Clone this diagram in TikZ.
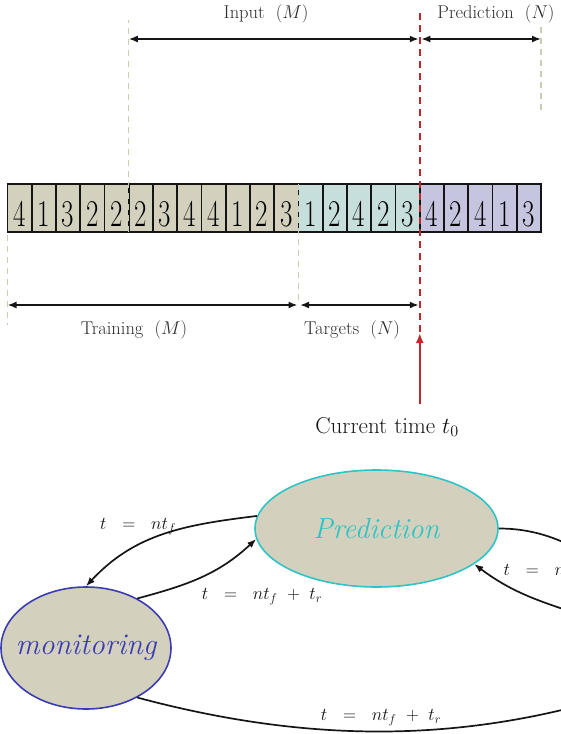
\RequirePackage{fix-cm}
\documentclass[tikz,border=0pt]{standalone}
\usepackage{xcolor}
\usepackage{graphicx}
\usepackage{tikz}
\usetikzlibrary{arrows.meta,positioning,shapes.geometric,calc}
\definecolor{ink}{HTML}{151515}
\definecolor{sand}{HTML}{D3D1BE}
\definecolor{mint}{HTML}{C6DFDC}
\definecolor{lilac}{HTML}{C6C5DF}
\definecolor{guideline}{HTML}{CBCDB0}
\definecolor{nowred}{HTML}{C3262B}
\definecolor{cyanring}{HTML}{2EC3C5}
\definecolor{monblue}{HTML}{3B3BB2}

\begin{document}
\begin{tikzpicture}[x=1pt,y=1pt,
  cell/.style={draw=ink,line width=1.6pt,minimum width=24.25pt,minimum height=48pt,
    inner sep=0pt,outer sep=0pt,text height=36pt,text depth=0pt,
    font=\fontsize{27}{27}\selectfont},
  span/.style={draw=ink,line width=1.7pt,{Latex[length=9pt,width=7pt]}-{Latex[length=9pt,width=7pt]}},
  guide/.style={draw=guideline,line width=1.3pt,dash pattern=on 6pt off 5pt},
  nowline/.style={draw=nowred,line width=2pt,dash pattern=on 7pt off 5pt},
  nowarrow/.style={draw=nowred,line width=2pt,-{Latex[length=10pt,width=8pt]}},
  seglabel/.style={font=\fontsize{18.5}{20}\selectfont,text=ink!90},
  nowlabel/.style={font=\fontsize{23}{25}\selectfont,text=ink},
  state/.style={ellipse,fill=sand,line width=1.6pt,inner sep=0pt},
  flow/.style={draw=ink,line width=1.7pt,-{Latex[length=9pt,width=7pt]}},
  elabel/.style={font=\fontsize{18}{20}\selectfont,text=ink}
]
\useasboundingbox (0,0) rectangle (561,-734);
\clip (0,0) rectangle (561,-734);

\foreach \d [count=\i] in {4,1,3,2,2,2,3,4,4,1,2,3}
  \node[cell,fill=sand] (c\i) at ({7.5+(\i-0.5)*24.25},-208) {\scalebox{1}[1.4]{\d}};
\foreach \d [count=\i from 13] in {1,2,4,2,3}
  \node[cell,fill=mint] (c\i) at ({7.5+(\i-0.5)*24.25},-208) {\scalebox{1}[1.4]{\d}};
\foreach \d [count=\i from 18] in {4,2,4,1,3}
  \node[cell,fill=lilac] (c\i) at ({7.5+(\i-0.5)*24.25},-208) {\scalebox{1}[1.4]{\d}};

\coordinate (spantop) at (0,-39);
\coordinate (spanbot) at (0,-305);
\draw[guide] (c5.south east) -- (c5.east |- 0,-20);
\draw[guide] (c22.east |- 0,-27) -- (c22.east |- 0,-110);
\draw[guide] (c1.south west) ++(0,-3) -- (c1.west |- 0,-325);
\draw[guide] (c12.north east) -- (c12.east |- 0,-305);
\draw[nowline] (c17.east |- 0,-13) -- (c17.east |- 0,-338);

\draw[span,shorten >=1pt] (c5.east |- spantop) -- (c17.east |- spantop);
\draw[span,shorten <=1.5pt] (c17.east |- spantop) -- (c22.east |- spantop);
\draw[span,shorten >=1pt] (c1.west |- spanbot) -- (c12.east |- spanbot);
\draw[span,shorten <=1.5pt,shorten >=1pt] (c12.east |- spanbot) -- (c17.east |- spanbot);

\node[seglabel] (inlab) at (266,-14) {Input\hspace{.6em}$(M)$};
\node[seglabel] (predlab) at (496,-14) {Prediction\hspace{.6em}$(N)$};
\node[seglabel] (trainlab) at (134,-330) {Training\hspace{.6em}$(M)$};
\node[seglabel] (targlab) at (352,-330) {Targets\hspace{.6em}$(N)$};

\coordinate (nowfoot) at (c17.east |- 0,-404);
\coordinate (nowtip) at (c17.east |- 0,-333);
\draw[nowarrow] (nowfoot) -- (nowtip);
\node[nowlabel] (nowlab) at (387,-427) {Current time $t_0$};

\node[state,draw=cyanring,minimum width=243pt,minimum height=117pt] (pred) at (376.5,-528.5)
  {\makebox[0pt]{\fontsize{29}{29}\selectfont\itshape\color{cyanring}Prediction}};
\node[state,draw=monblue,minimum width=170pt,minimum height=122pt] (mon) at (86,-648)
  {\makebox[0pt]{\fontsize{30}{30}\selectfont\itshape\color{monblue}monitoring}};

\coordinate (outR) at (660,-590);
\coordinate (inR) at (610,-625);
\coordinate (lowR) at (600,-700);
\draw[flow] (pred.174) to[out=187,in=47] (mon.north);
\draw[flow] (mon.44) to[out=15,in=223] (pred.185);
\draw[draw=ink,line width=1.7pt] (pred.east) to[out=0,in=160] (outR);
\draw[flow] (inR) to[out=160,in=-37] (pred.-20);
\draw[draw=ink,line width=1.7pt] (mon.-44) to[out=-15,in=196,looseness=.9] (lowR);

\node[elabel] (lab1) at (138,-527) {$t\ \ =\ \ nt_f$};
\node[elabel] (lab2) at (262,-597) {$t\ \ =\ \ nt_f\ +\ t_r$};
\node[elabel,anchor=west] (lab3) at (500,-573) {$t\ \ =\ \ nt_f$};
\node[elabel] (lab4) at (381,-718) {$t\ \ =\ \ nt_f\ +\ t_r$};
\end{tikzpicture}
\end{document}
